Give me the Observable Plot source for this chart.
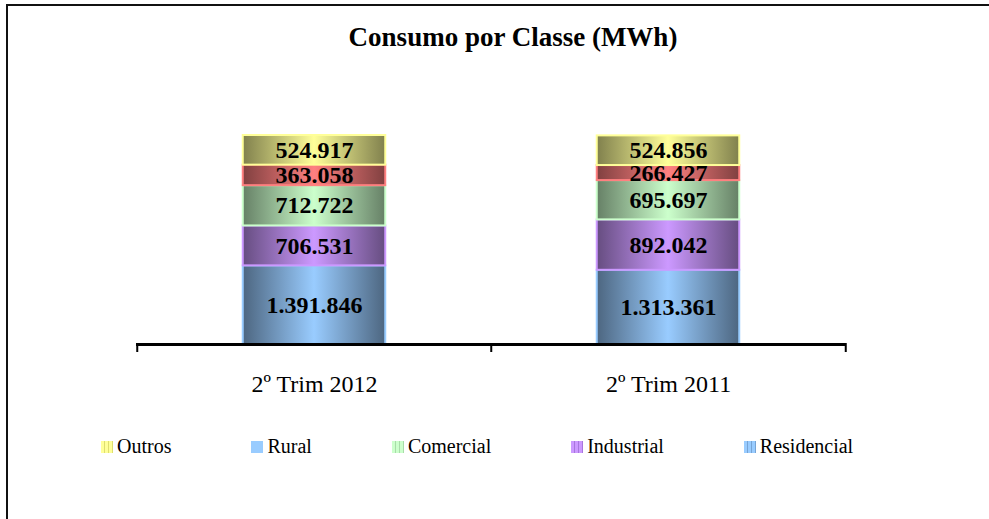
<!DOCTYPE html>
<html>
<head>
<meta charset="utf-8">
<script src="https://cdn.jsdelivr.net/npm/d3@7"></script>
<script src="https://cdn.jsdelivr.net/npm/@observablehq/plot@0.6"></script>
<style>
  html, body { margin: 0; padding: 0; background: #fff; }
  #wrap { position: relative; width: 989px; height: 519px; overflow: hidden; font-family: "Liberation Serif", "Times New Roman", serif; }
  #frame { position: absolute; left: 6px; top: 4px; width: 1200px; height: 800px; border-top: 2px solid #111; border-left: 2px solid #111; }
  #title { position: absolute; left: 7px; width: 1012px; top: 22px; text-align: center; font-weight: bold; font-size: 27px; color: #000; }
  #chart { position: absolute; left: 0; top: 100px; }
  #legend { position: absolute; left: 101px; top: 435px; display: flex; gap: 80px; font-size: 20px; color: #000; white-space: nowrap; }
  .item { display: flex; align-items: center; }
  .sw { width: 12px; height: 12px; margin-right: 4px; }
</style>
</head>
<body>
<div id="wrap">
  <div id="frame"></div>
  <div id="title">Consumo por Classe (MWh)</div>
  <div id="chart"></div>
  <div id="legend"></div>
</div>
<script>
// ---- data ----
const categories = ["2º Trim 2012", "2º Trim 2011"];
const series = ["Residencial", "Industrial", "Comercial", "Rural", "Outros"];
const values2012 = [1391846, 706531, 712722, 363058, 524917];
const values2011 = [1313361, 892042, 695697, 266427, 524856];
const legendOrder = ["Outros", "Rural", "Comercial", "Industrial", "Residencial"];

// ---- styles ----
const lightColors = {Residencial: "#99ccff", Industrial: "#cc99ff", Comercial: "#ccffcc", Rural: "#ff8080", Outros: "#ffff99"};
const darkColors  = {Residencial: "#4d6680", Industrial: "#664d80", Comercial: "#668066", Rural: "#804040", Outros: "#80804d"};
const legendSwatch = {
  Outros: "repeating-linear-gradient(90deg,#ffff99 0 3px,#dede70 3px 4px)",
  Rural: "#99ccff",
  Comercial: "repeating-linear-gradient(90deg,#ccffcc 0 3px,#a8dca8 3px 4px)",
  Industrial: "repeating-linear-gradient(90deg,#cc99ff 0 3px,#a877dd 3px 4px)",
  Residencial: "repeating-linear-gradient(90deg,#99ccff 0 3px,#77a4d4 3px 4px)"
};

const rows = [];
categories.forEach((c, ci) => {
  const vals = ci === 0 ? values2012 : values2011;
  series.forEach((s, si) => rows.push({category: c, series: s, value: vals[si]}));
});

const fmt = d3.formatLocale({decimal: ",", thousands: ".", grouping: [3], currency: ["R$", ""]}).format(",d");

const W = 989, H = 320;
const mL = 136, mR = 144, mT = 18, mB = 76;
const bandW = (W - mL - mR) / categories.length;
const barW = 143;
const inset = (bandW - barW) / 2;

const gradId = s => "grad-" + s;

const defsMark = () => {
  const defs = d3.create("svg:defs");
  series.forEach(s => {
    const g = defs.append("linearGradient").attr("id", gradId(s)).attr("x1", "0").attr("x2", "1").attr("y1", "0").attr("y2", "0");
    g.append("stop").attr("offset", "0%").attr("stop-color", darkColors[s]);
    g.append("stop").attr("offset", "50%").attr("stop-color", lightColors[s]);
    g.append("stop").attr("offset", "100%").attr("stop-color", darkColors[s]);
  });
  return defs.node();
};

const chart = Plot.plot({
  width: W,
  height: H,
  marginLeft: mL,
  marginRight: mR,
  marginTop: mT,
  marginBottom: mB,
  style: {background: "transparent", fontFamily: "'Liberation Serif', serif"},
  x: {domain: categories, padding: 0, label: null},
  y: {domain: [0, 4000000], axis: null},
  color: {type: "identity"},
  marks: [
    defsMark,
    Plot.barY(rows, Plot.stackY({
      x: "category", y: "value",
      fill: d => `url(#${gradId(d.series)})`,
      stroke: d => lightColors[d.series],
      strokeWidth: 2,
      insetLeft: inset, insetRight: inset,
      insetTop: 0, insetBottom: 0
    })),
    Plot.text(rows, Plot.stackY({
      x: "category", y: "value",
      text: d => fmt(d.value),
      fontSize: 24, fontWeight: "bold", fill: "#000",
      fontFamily: "'Liberation Serif', serif"
    })),
    Plot.ruleY([0], {stroke: "#000", strokeWidth: 3}),
    Plot.ruleX(categories, {x: d => d, dx: -bandW / 2, y1: 0, y2: 0, insetTop: -1, insetBottom: -8, stroke: "#000", strokeWidth: 2}),
    Plot.ruleX(categories.slice(-1), {x: d => d, dx: bandW / 2, y1: 0, y2: 0, insetTop: -1, insetBottom: -8, stroke: "#000", strokeWidth: 2}),
    Plot.axisX({tickSize: 0, tickPadding: 30, fontSize: 24, label: null, fontFamily: "'Liberation Serif', serif", fill: "#000"})
  ]
});
document.getElementById("chart").appendChild(chart);

const legend = d3.select("#legend");
legendOrder.forEach(s => {
  const it = legend.append("div").attr("class", "item");
  it.append("div").attr("class", "sw").style("background", legendSwatch[s]);
  it.append("span").text(s);
});
</script>
</body>
</html>
